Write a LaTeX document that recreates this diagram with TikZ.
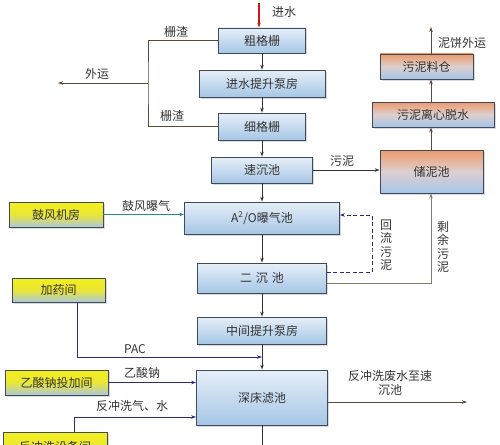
\documentclass[tikz,border=0pt]{standalone}
\usepackage{fontspec}
\setmainfont{Noto Sans CJK SC}
\usetikzlibrary{arrows.meta,shadows}
\definecolor{boxborder}{HTML}{3F4A5A}
\definecolor{mainTop}{HTML}{E6EFF8}
\definecolor{mainBot}{HTML}{A6C6E6}
\definecolor{yelTop}{HTML}{F4F01C}
\definecolor{yelMid}{HTML}{EAE636}
\definecolor{yelBot}{HTML}{AEC8DA}
\definecolor{slTop}{HTML}{EE9A68}
\definecolor{slMid}{HTML}{DCCFCF}
\definecolor{slBot}{HTML}{A6C6E8}
\definecolor{txt}{HTML}{333333}
\definecolor{brownline}{HTML}{5A4A3A}
\definecolor{tanline}{HTML}{8A7A6A}
\definecolor{teal}{HTML}{2E8A78}
\definecolor{navy}{HTML}{2A2A88}
\definecolor{redin}{HTML}{D01818}
\tikzset{
  basebox/.style={draw=boxborder, line width=0.8pt, inner sep=0pt, text=txt,
    font=\fontsize{12}{14}\selectfont,
    drop shadow={shadow xshift=1.5pt, shadow yshift=-1.5pt, opacity=0.3}},
  mainbox/.style={basebox, top color=mainTop, bottom color=mainBot},
  yelbox/.style={basebox, top color=yelTop, bottom color=yelBot, middle color=yelMid},
  slbox/.style={basebox, top color=slTop, bottom color=slBot, middle color=slMid},
  lbl/.style={text=txt, font=\fontsize{12}{14}\selectfont, inner sep=0pt},
  arr/.style={-{Stealth[length=5pt,width=3.5pt]}, line width=0.8pt},
  mainarr/.style={arr, draw=black!80},
}
\begin{document}
\begin{tikzpicture}[x=1pt,y=-1pt]
\useasboundingbox (0,0) rectangle (500,444);
\clip (0,0) rectangle (500,444);
% main column
\node[mainbox, minimum width=87pt, minimum height=25pt] (g1) at (262,40.5) {粗格栅};
\node[mainbox, minimum width=126pt, minimum height=27pt] (p1) at (262,83.5) {进水提升泵房};
\node[mainbox, minimum width=87pt, minimum height=27pt] (g2) at (262,126.5) {细格栅};
\node[mainbox, minimum width=101pt, minimum height=26pt] (sc) at (262,170) {速沉池};
\node[mainbox, minimum width=155pt, minimum height=32pt] (ao) at (262,218) {A\textsuperscript{2}/O曝气池};
\node[mainbox, minimum width=129pt, minimum height=30pt] (ec) at (262,278) {二\,\,沉\,\,池};
\node[mainbox, minimum width=129pt, minimum height=27pt] (mid) at (262,330.5) {中间提升泵房};
\node[mainbox, minimum width=131pt, minimum height=55pt] (df) at (262,397.5) {深床滤池};
% sludge column
\node[slbox, minimum width=93pt, minimum height=25pt] (lc) at (426.5,66.5) {污泥料仓};
\node[slbox, minimum width=122pt, minimum height=25pt] (cd) at (433,114.5) {污泥离心脱水};
\node[slbox, minimum width=103pt, minimum height=43pt] (cn) at (431.5,171.5) {储泥池};
% left yellow boxes
\node[yelbox, minimum width=94pt, minimum height=25pt] (fj) at (56,214.5) {鼓风机房};
\node[yelbox, minimum width=93pt, minimum height=24pt] (jy) at (58.5,290) {加药间};
\node[yelbox, minimum width=103pt, minimum height=25pt] (ys) at (56.5,382.5) {乙酸钠投加间};
\node[yelbox, minimum width=104pt, minimum height=30pt] (fc) at (55,447) {反冲洗设备间};
% coordinates
\coordinate (inw) at (259,3);
\coordinate (c1) at (148,83);
\coordinate (wy) at (58,83);
\coordinate (rx) at (431,0);
\coordinate (top2) at (431,27);
\coordinate (hl) at (372,250);
\coordinate (px) at (77,0);
\coordinate (pe) at (262,357);
\coordinate (fx) at (74,0);
\coordinate (we) at (467,402);
\coordinate (dfo) at (262,450);
% main flow
\draw[arr, draw=redin, line width=1.6pt] (inw) -- (inw |- g1.north);
\node[lbl] (tin) at (284,12) {进水};
\draw[mainarr] (g1) -- (p1);
\draw[mainarr] (p1) -- (g2);
\draw[mainarr] (g2) -- (sc);
\draw[mainarr] (sc) -- (ao);
\draw[mainarr] (ao) -- (ec);
\draw[mainarr] (ec) -- (mid);
\draw[mainarr] (mid) -- (df);
\draw[mainarr] (df) -- (dfo);
% screenings
\draw[line width=0.8pt, draw=brownline] (g1.west) -| (c1) |- (g2.west);
\draw[arr, draw=brownline] (c1) -- (wy);
\node[lbl] (tzz1) at (176,32) {栅渣};
\node[lbl] (tzz2) at (172,116) {栅渣};
\node[lbl] (twy) at (97,74) {外运};
% sludge
\draw[mainarr] (sc.east) -- (sc.east -| cn.west);
\node[lbl] (tsl) at (342,161) {污泥};
\draw[mainarr, draw=brownline] (cn.north -| rx) -- (cd.south -| rx);
\draw[mainarr, draw=brownline] (cd.north -| rx) -- (lc.south -| rx);
\draw[mainarr, draw=brownline] (lc.north -| rx) -- (top2);
\node[lbl] (tnb) at (462,43) {泥饼外运};
\draw[arr, draw=tanline] ([yshift=-5pt]ec.east) -| (cn.south -| rx);
\node[lbl, align=center, font=\fontsize{12}{13.5}\selectfont] (tsy) at (443,247) {剩\\余\\污\\泥};
\draw[arr, draw=navy, dashed, dash pattern=on 4pt off 2.5pt] ([yshift=6pt]ec.east) -| (hl) |- ([yshift=3pt]ao.east);
\node[lbl, align=center, font=\fontsize{12}{13.5}\selectfont] (thl) at (386,245) {回\\流\\污\\泥};
% left inputs
\draw[arr, draw=teal] (fj.east) -- (fj.east -| ao.west);
\node[lbl] (tgf) at (146,206) {鼓风曝气};
\draw[arr, draw=navy] (jy.south -| px) |- (pe);
\node[lbl] (tpac) at (135,349) {PAC};
\draw[arr, draw=navy] (ys.east) -- (ys.east -| df.west);
\node[lbl] (tys) at (142,373) {乙酸钠};
\draw[arr, draw=navy] (fc.north -| fx) |- ([yshift=-19.5pt]df.west);
\node[lbl] (tfc) at (132,406) {反冲洗气、水};
\draw[arr, draw=brownline] ([yshift=-4.5pt]df.east) -- (we);
\node[lbl, align=center] (tws) at (390,382.5) {反冲洗废水至速\\沉池};
\end{tikzpicture}
\end{document}
